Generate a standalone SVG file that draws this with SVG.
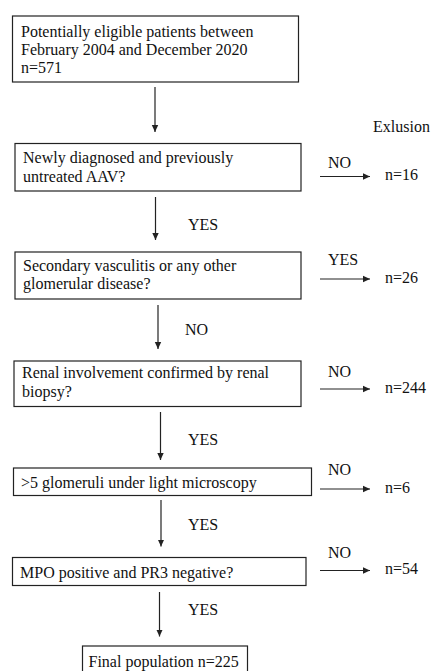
<svg xmlns="http://www.w3.org/2000/svg" width="432" height="671" viewBox="0 0 432 671" font-family="'Liberation Serif', 'Times New Roman', 'DejaVu Serif', serif" font-size="16">
<style>
.box{fill:#fff;stroke:#222;stroke-width:1.2}
text{fill:#111}
.c line{stroke:#222;stroke-width:1.2;marker-end:url(#ah)}
</style>
<defs>
<marker id="ah" markerWidth="8" markerHeight="8" refX="7" refY="4" orient="auto" markerUnits="userSpaceOnUse">
<path d="M0,0.8 L7,4 L0,7.2 Z" fill="#222"/>
</marker>
</defs>
<rect width="432" height="671" fill="#fff"/>
<g id="n1">
<rect class="box" x="12.5" y="16" width="286" height="66"/>
<text x="21" y="36.5">Potentially eligible patients between</text>
<text x="21" y="55">February 2004 and December 2020</text>
<text x="21" y="73">n=571</text>
</g>
<g id="n2">
<rect class="box" x="15" y="143.5" width="286" height="47.5"/>
<text x="23" y="163">Newly diagnosed and previously</text>
<text x="23" y="181.5">untreated AAV?</text>
</g>
<g id="n3">
<rect class="box" x="15" y="252" width="286" height="47"/>
<text x="23" y="271">Secondary vasculitis or any other</text>
<text x="23" y="289">glomerular disease?</text>
</g>
<g id="n4">
<rect class="box" x="14" y="361" width="287" height="45.5"/>
<text x="22" y="378">Renal involvement confirmed by renal</text>
<text x="22" y="396.5">biopsy?</text>
</g>
<g id="n5">
<rect class="box" x="13.5" y="468" width="298" height="27.5"/>
<text x="21" y="487.5">&gt;5 glomeruli under light microscopy</text>
</g>
<g id="n6">
<rect class="box" x="12.5" y="557.5" width="293.5" height="28"/>
<text x="20" y="577.5">MPO positive and PR3 negative?</text>
</g>
<g id="n7">
<rect class="box" x="82.5" y="646" width="165" height="30"/>
<text x="88.5" y="666.5">Final population n=225</text>
</g>
<g id="exclusions">
<text x="373" y="131.5">Exlusion</text>
<text x="385" y="180">n=16</text>
<text x="385" y="283">n=26</text>
<text x="385" y="393">n=244</text>
<text x="385" y="493">n=6</text>
<text x="385" y="574">n=54</text>
</g>
<g id="labels">
<text x="328" y="168">NO</text>
<text x="188" y="230">YES</text>
<text x="328" y="265">YES</text>
<text x="185" y="335">NO</text>
<text x="328" y="376.5">NO</text>
<text x="188" y="445">YES</text>
<text x="328" y="475">NO</text>
<text x="188" y="530">YES</text>
<text x="328" y="558">NO</text>
<text x="188" y="615">YES</text>
</g>
<g id="connectors" class="c">
<line x1="155" y1="87" x2="155" y2="132"/>
<line x1="155.5" y1="197" x2="155.5" y2="240"/>
<line x1="158" y1="305" x2="158" y2="349"/>
<line x1="160.5" y1="412" x2="160.5" y2="460"/>
<line x1="161" y1="500" x2="161" y2="546.5"/>
<line x1="159.5" y1="592" x2="159.5" y2="636.5"/>
<line x1="320" y1="176.5" x2="370" y2="176.5"/>
<line x1="320" y1="279" x2="370" y2="279"/>
<line x1="320" y1="389" x2="370" y2="389"/>
<line x1="320" y1="489" x2="370" y2="489"/>
<line x1="320" y1="570.5" x2="370" y2="570.5"/>
</g>
</svg>
